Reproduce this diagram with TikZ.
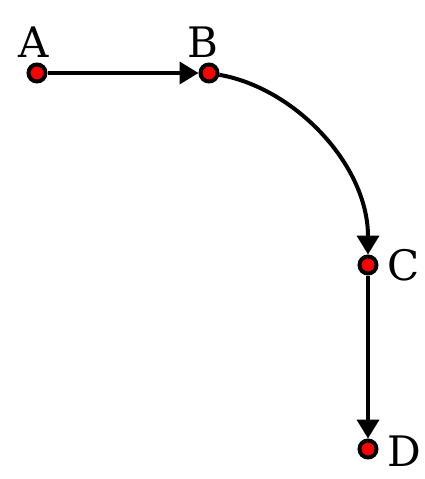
\documentclass[tikz,border=0pt]{standalone}
\usepackage{fontspec}
\setmainfont{DejaVu Serif}
\usetikzlibrary{arrows.meta}
\begin{document}
\begin{tikzpicture}[x=1pt,y=-1pt,
  dot/.style={circle,draw=black,fill=red,line width=4pt,minimum size=17pt,inner sep=0pt},
  lbl/.style={font=\fontsize{42}{48}\selectfont,inner sep=0pt},
  conn/.style={line width=4pt,-{Triangle[length=19pt,width=22pt]}}]
\useasboundingbox (0,0) rectangle (424,479);
\node[dot] (A) at (37,73) {};
\node[dot] (B) at (209,73) {};
\node[dot] (C) at (368,265) {};
\node[dot] (D) at (368,449) {};
\node[lbl,anchor=base] (la) at (34,57) {A};
\node[lbl,anchor=base] (lb) at (203,57) {B};
\node[lbl,anchor=west] (lc) at (387,265) {C};
\node[lbl,anchor=west] (ld) at (387,451) {D};
\draw[conn] (A) -- (B);
\draw[conn] (B) .. controls (295,88) and (368,165) .. (C);
\draw[conn] (C) -- (D);
\end{tikzpicture}
\end{document}
